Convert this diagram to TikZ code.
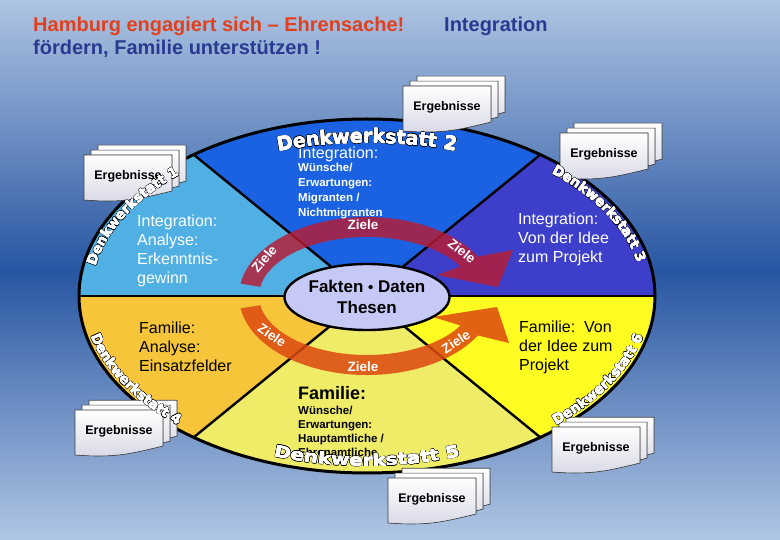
\documentclass[tikz,border=0pt]{standalone}
\usepackage{fontspec}
\setmainfont{Liberation Sans}
\newfontfamily\dwfam{DejaVu Sans}
\newfontfamily\dwwide[FakeStretch=1.25]{DejaVu Sans}
\usetikzlibrary{shapes.geometric,decorations.text}

\definecolor{bgtop}{HTML}{AEC4E2}
\definecolor{bgmid}{HTML}{2856A2}
\definecolor{bgbot}{HTML}{B0C6E4}
\definecolor{secUL}{HTML}{50B0E4}
\definecolor{secT}{HTML}{1A62E2}
\definecolor{secUR}{HTML}{3D3FCA}
\definecolor{secLL}{HTML}{F6C53A}
\definecolor{secB}{HTML}{EFEC68}
\definecolor{secLR}{HTML}{FFFC22}
\definecolor{kern}{HTML}{C6C8F6}
\definecolor{zielrot}{HTML}{B81C34}
\definecolor{zielorange}{HTML}{DD4A10}
\definecolor{titlered}{HTML}{E2401C}
\definecolor{titleblue}{HTML}{2B3990}
\definecolor{cardshade}{HTML}{D8D8E6}

\newcommand\dwA{\dwfam\bfseries\fontsize{13.5}{14}\selectfont}
\newcommand\dwB{\dwfam\bfseries\fontsize{19}{20}\selectfont}
\newcommand\dwC{\dwwide\bfseries\fontsize{16}{17}\selectfont}

% outlined text along an elliptical arc around the centre
\newcommand\dwlab[6]{%
  \foreach \ddx/\ddy in {0.85/0,-0.85/0,0/0.85,0/-0.85,0.6/0.6,-0.6/0.6,0.6/-0.6,-0.6/-0.6}{%
    \path[shift={(\ddx,\ddy)},decorate,decoration={text along path,text align=center,text={|#1\color{black}|#6}}]
      ([shift={(367,-296)}]#4:#2 and #3) arc[start angle=#4,end angle=#5,x radius=#2,y radius=#3];
  }%
  \foreach \ddx/\ddy in {0.3/0,-0.3/0,0/0.3,0/-0.3,0/0}{%
    \path[shift={(\ddx,\ddy)},decorate,decoration={text along path,text align=center,text={|#1\color{white}|#6}}]
      ([shift={(367,-296)}]#4:#2 and #3) arc[start angle=#4,end angle=#5,x radius=#2,y radius=#3];
  }%
}

% stack of three result sheets; #1,#2 = top left of front sheet (image coords)
\newcommand\ergcard[3]{%
  \begin{scope}[shift={(#1,-#2)}]
    \foreach \o in {14,7,0}{%
      \filldraw[card,shift={(\o,0.7*\o)}] (0,0) -- (88,0) -- (88,-36)
        .. controls (55,-44) and (40,-48) .. (0,-45) -- cycle;
    }
    \node[ergtext] (#3) at (44,-21) {Ergebnisse};
  \end{scope}
}

\begin{document}
\begin{tikzpicture}[x=1pt,y=1pt,
  spoke/.style={line width=2.4pt,black},
  card/.style={draw=black!75,line width=0.6pt,top color=white,bottom color=cardshade},
  ergtext/.style={font=\bfseries\fontsize{12.5}{12.5}\selectfont,inner sep=0pt},
  wtext/.style={text=white,align=left,anchor=north west,inner sep=0pt,font=\fontsize{16}{19}\selectfont},
  ktext/.style={wtext,text=black},
  smallw/.style={text=white,align=left,anchor=north west,inner sep=0pt,font=\bfseries\fontsize{11.5}{15}\selectfont},
  smallk/.style={smallw,text=black,font=\bfseries\fontsize{11.5}{14}\selectfont},
  zl/.style={text=white,font=\bfseries\fontsize{13.5}{13.5}\selectfont,inner sep=0pt},
  titlestyle/.style={anchor=base west,inner sep=0pt,font=\bfseries\fontsize{20}{24}\selectfont},
]
\useasboundingbox (0,0) rectangle (780,-540);
\shade[top color=bgtop,bottom color=bgbot,middle color=bgmid] (0,0) rectangle (780,-540);

% title
\node[titlestyle,text=titlered] (title1) at (33,-32) {Hamburg engagiert sich – Ehrensache!};
\node[titlestyle,text=titleblue] (title2) at (444,-32) {Integration};
\node[titlestyle,text=titleblue] (title3) at (33,-55) {fördern, Familie unterstützen !};

% geometry
\coordinate (c) at (367,-296);
\coordinate (p0) at ([shift={(367,-296)}]0:288 and 177);
\coordinate (p53) at ([shift={(367,-296)}]53:288 and 177);
\coordinate (p127) at ([shift={(367,-296)}]127:288 and 177);
\coordinate (p180) at ([shift={(367,-296)}]180:288 and 177);
\coordinate (p233) at ([shift={(367,-296)}]233:288 and 177);
\coordinate (p307) at ([shift={(367,-296)}]307:288 and 177);

% sectors
\fill[secUL] (c) -- (p127) arc[start angle=127,end angle=180,x radius=288,y radius=177] -- cycle;
\fill[secT]  (c) -- (p53) arc[start angle=53,end angle=127,x radius=288,y radius=177] -- cycle;
\fill[secUR] (c) -- (p0) arc[start angle=0,end angle=53,x radius=288,y radius=177] -- cycle;
\fill[secLL] (c) -- (p180) arc[start angle=180,end angle=233,x radius=288,y radius=177] -- cycle;
\fill[secB]  (c) -- (p233) arc[start angle=233,end angle=307,x radius=288,y radius=177] -- cycle;
\fill[secLR] (c) -- (p307) arc[start angle=307,end angle=360,x radius=288,y radius=177] -- cycle;

\draw[spoke] (p180) -- (p0);
\draw[spoke] (c) -- (p53);
\draw[spoke] (c) -- (p127);
\draw[spoke] (c) -- (p233);
\draw[spoke] (c) -- (p307);
\draw[line width=3pt] (c) ellipse[x radius=288,y radius=177];

% Ziele arrows
\fill[zielrot,opacity=0.82] ([shift={(367,-296)}]171:128 and 79)
  arc[start angle=171,end angle=30,x radius=128,y radius=79]
  -- (513,-250) -- (498,-287) -- (437,-275)
  -- ([shift={(367,-296)}]30:108 and 59)
  arc[start angle=30,end angle=171,x radius=108,y radius=59] -- cycle;
\fill[zielorange,opacity=0.86] ([shift={(367,-296)}]-171:128 and 79)
  arc[start angle=-171,end angle=-30,x radius=128,y radius=79]
  -- (509,-343) -- (497,-307) -- (433,-317)
  -- ([shift={(367,-296)}]-30:108 and 59)
  arc[start angle=-30,end angle=-171,x radius=108,y radius=59] -- cycle;

\node[zl,rotate=50] (z1) at (264,-259) {Ziele};
\node[zl] (z2) at (363,-225) {Ziele};
\node[zl,rotate=-38] (z3) at (462,-251) {Ziele};
\node[zl,rotate=-34] (z4) at (272,-335) {Ziele};
\node[zl] (z5) at (363,-367) {Ziele};
\node[zl,rotate=33] (z6) at (456,-342) {Ziele};

% centre
\node[ellipse,draw,line width=2.4pt,fill=kern,minimum width=154pt,minimum height=66pt,inner sep=0pt,align=center,
  font=\bfseries\fontsize{17}{21}\selectfont] (fakten) at (367,-297) {Fakten {\fontsize{15}{15}\selectfont •} Daten\\Thesen};

% sector texts
\node[wtext] (t1) at (137,-215) {Integration:\\Analyse:\\Erkenntnis-\\gewinn};
\node[wtext] (t2a) at (298,-147) {Integration:};
\node[smallw] (t2b) at (298,-163) {Wünsche/\\Erwartungen:\\Migranten /\\Nichtmigranten};
\node[wtext] (t3) at (518,-213) {Integration:\\Von der Idee\\zum Projekt};
\node[ktext] (t4) at (139,-322) {Familie:\\Analyse:\\Einsatzfelder};
\node[anchor=north west,inner sep=0pt,font=\bfseries\fontsize{18}{20}\selectfont] (t5a) at (298,-386) {Familie:};
\node[smallk] (t5b) at (298,-406) {Wünsche/\\Erwartungen:\\Hauptamtliche /\\Ehrenamtliche};
\node[ktext] (t6) at (519,-321) {Familie:\ \ Von\\der Idee zum\\Projekt};

% result sheets
\ergcard{403}{86}{erg2}
\ergcard{560}{133}{erg3}
\ergcard{84}{155}{erg1}
\ergcard{75}{410}{erg4}
\ergcard{388}{478}{erg5}
\ergcard{552}{427}{erg6}

% workshop labels
\dwlab{\dwA}{276}{165}{175}{129}{Denkwerkstatt 1}
\dwlab{\dwB}{275}{153}{125}{55}{Denkwerkstatt 2}
\dwlab{\dwA}{276}{165}{52}{6}{Denkwerkstatt 3}
\dwlab{\dwA}{284}{173}{187}{233}{Denkwerkstatt 4}
\dwlab{\dwC}{280}{170}{240}{300}{Denkwerkstatt 5}
\dwlab{\dwA}{284}{173}{-53}{-7}{Denkwerkstatt 6}
\end{tikzpicture}
\end{document}
